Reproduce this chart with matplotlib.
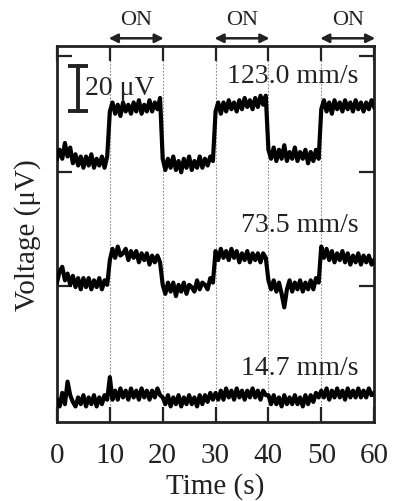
import numpy as np
import matplotlib
matplotlib.use("Agg")
import matplotlib.pyplot as plt

plt.rcParams['font.family'] = ['Liberation Serif', 'DejaVu Serif']

# время, с (шаг 0.5 с)
time_s = np.arange(0, 60.5, 0.5)

# напряжение, мкВ (со смещением по вертикали)
v_fast = [117, 121, 117, 124, 118, 122, 115, 119, 114, 118, 113, 118, 114, 119, 113, 117, 114, 118, 113, 118,
          138, 142, 137, 141, 136, 142, 138, 141, 137, 142, 138, 143, 137, 141, 138, 143, 138, 142, 139, 144,
          117, 112, 117, 113, 118, 112, 116, 111, 117, 113, 118, 112, 116, 113, 118, 113, 117, 114, 118, 116,
          138, 142, 137, 142, 138, 143, 139, 142, 138, 143, 139, 144, 140, 143, 139, 144, 140, 145, 141, 145,
          121, 117, 122, 116, 121, 117, 123, 116, 120, 117, 122, 116, 120, 117, 121, 115, 120, 116, 121, 117,
          139, 143, 138, 142, 137, 143, 139, 142, 138, 143, 139, 142, 138, 143, 139, 142, 138, 142, 139, 143, 140]
v_mid = [62, 67, 69, 63, 66, 61, 65, 60, 64, 59, 64, 60, 64, 59, 63, 60, 64, 59, 63, 61,
         72, 77, 73, 78, 74, 75, 77, 72, 76, 73, 76, 71, 75, 72, 75, 70, 74, 71, 74, 71,
         61, 57, 62, 58, 62, 56, 61, 58, 62, 57, 61, 60, 58, 63, 59, 62, 61, 59, 64, 62,
         76, 72, 77, 73, 76, 72, 77, 73, 76, 71, 75, 72, 76, 71, 75, 72, 75, 71, 75, 73,
         63, 59, 63, 58, 62, 57, 51, 59, 63, 58, 62, 59, 63, 58, 62, 59, 63, 59, 64, 62,
         78, 73, 77, 72, 76, 71, 75, 72, 76, 71, 75, 70, 74, 71, 75, 70, 74, 71, 74, 70, 72]
v_slow = [10, 7, 13, 8, 18, 12, 9, 7, 11, 8, 12, 7, 11, 8, 12, 7, 11, 8, 12, 10,
          20, 10, 14, 10, 15, 11, 14, 10, 15, 11, 14, 10, 15, 11, 14, 10, 14, 11, 15, 12,
          11, 8, 12, 7, 11, 8, 12, 7, 11, 8, 12, 8, 11, 7, 12, 8, 12, 9, 13, 10,
          13, 10, 14, 10, 15, 11, 14, 10, 15, 11, 14, 10, 14, 11, 15, 11, 14, 10, 14, 12,
          12, 8, 12, 8, 11, 7, 12, 8, 11, 8, 12, 8, 11, 7, 12, 8, 12, 9, 13, 11,
          14, 11, 15, 10, 14, 11, 15, 11, 14, 10, 15, 11, 14, 11, 15, 11, 14, 11, 15, 12, 13]
speeds = ["123.0 mm/s", "73.5 mm/s", "14.7 mm/s"]
label_y = [151, 85, 21.3]
on_periods = [(10, 20), (30, 40), (50, 60)]
switch_times = [10, 20, 30, 40, 50]

fig = plt.figure(figsize=(3.93, 5.02), dpi=100)
ax = fig.add_axes([0.145, 0.157, 0.807, 0.749])

for t in switch_times:
    ax.axvline(t, color='0.55', lw=0.8, ls=(0, (1.5, 1.5)), zorder=1)

for v in (v_fast, v_mid, v_slow):
    ax.plot(time_s, v, color='black', lw=3.0, zorder=3)

for s, y in zip(speeds, label_y):
    ax.text(57.0, y, s, ha='right', va='baseline', fontsize=20, color='#222222', zorder=4)

# шкала 20 мкВ
ax.plot([4.0, 4.0], [138.2, 158.2], color='#222222', lw=2.8, marker='_', ms=14, mew=2.8, zorder=4)
ax.text(5.3, 145.8, "20 μV", ha='left', va='baseline', fontsize=20, color='#222222', zorder=4)

# стрелки ON
for a, b in on_periods:
    ax.annotate('', xy=(a - 0.2, 1.021), xytext=(b + 0.2, 1.021),
                xycoords=('data', 'axes fraction'), textcoords=('data', 'axes fraction'),
                arrowprops=dict(arrowstyle='<|-|>', color='#222222', lw=1.8,
                                mutation_scale=13, shrinkA=0, shrinkB=0),
                annotation_clip=False)
    ax.text((a + b) / 2, 1.072, "ON", transform=ax.get_xaxis_transform(),
            ha='center', va='center', fontsize=16, color='#222222')

ax.set_xlim(0, 60)
ax.set_ylim(0, 167)
ax.set_xticks(range(0, 61, 10))
ax.set_yticks([60.7, 111.3, 162.7])
ax.set_yticklabels([])
ax.tick_params(direction='in', top=True, right=True, length=11, width=1.6,
               labelsize=21, pad=14, colors='#222222')
for sp in ax.spines.values():
    sp.set_linewidth(2)
    sp.set_color('#222222')

ax.set_xlabel("Time (s)", fontsize=21, color='#222222', labelpad=3)
ax.set_ylabel("Voltage (μV)", fontsize=21, color='#222222')
ax.yaxis.set_label_coords(-0.05, 0.5)

fig.savefig("out.png", dpi=100)
